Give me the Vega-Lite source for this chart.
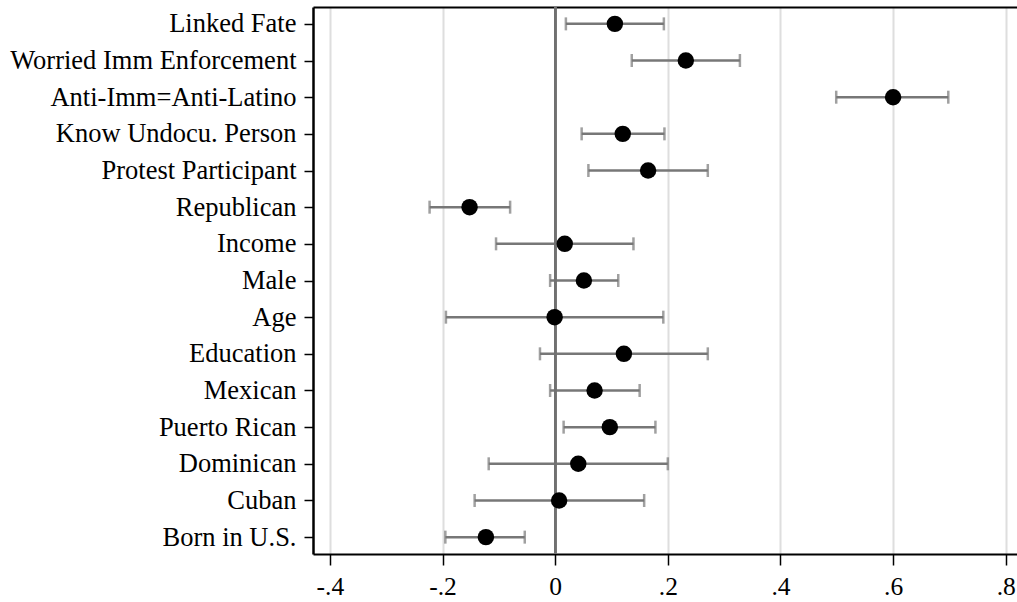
{
  "$schema": "https://vega.github.io/schema/vega-lite/v6.json",
  "autosize": {"type": "none"},
  "padding": {"left": 313, "top": 7, "right": 0, "bottom": 48},
  "width": 704,
  "height": 547,
  "background": "white",
  "config": {
    "view": {"stroke": null},
    "font": "Liberation Serif"
  },
  "data": {
    "values": [
      {"var": "Linked Fate", "est": 0.106, "lo": 0.019, "hi": 0.193},
      {"var": "Worried Imm Enforcement", "est": 0.232, "lo": 0.136, "hi": 0.328},
      {"var": "Anti-Imm=Anti-Latino", "est": 0.600, "lo": 0.499, "hi": 0.698},
      {"var": "Know Undocu. Person", "est": 0.120, "lo": 0.047, "hi": 0.194},
      {"var": "Protest Participant", "est": 0.165, "lo": 0.059, "hi": 0.271},
      {"var": "Republican", "est": -0.152, "lo": -0.223, "hi": -0.080},
      {"var": "Income", "est": 0.017, "lo": -0.105, "hi": 0.139},
      {"var": "Male", "est": 0.051, "lo": -0.009, "hi": 0.112},
      {"var": "Age", "est": -0.001, "lo": -0.194, "hi": 0.192},
      {"var": "Education", "est": 0.122, "lo": -0.027, "hi": 0.271},
      {"var": "Mexican", "est": 0.070, "lo": -0.009, "hi": 0.150},
      {"var": "Puerto Rican", "est": 0.097, "lo": 0.015, "hi": 0.178},
      {"var": "Dominican", "est": 0.041, "lo": -0.118, "hi": 0.200},
      {"var": "Cuban", "est": 0.007, "lo": -0.143, "hi": 0.158},
      {"var": "Born in U.S.", "est": -0.123, "lo": -0.195, "hi": -0.054}
    ]
  },
  "resolve": {"axis": {"x": "independent"}},
  "layer": [
    {
      "mark": {"type": "rule", "color": "#777777", "strokeWidth": 2.5},
      "encoding": {
        "y": {
          "field": "var", "type": "nominal", "sort": null,
          "scale": {"type": "point", "padding": 0.46},
          "axis": {
            "title": null, "domainColor": "black", "domainWidth": 2.5,
            "tickColor": "black", "tickSize": 9, "tickWidth": 1.5,
            "labelFont": "Liberation Serif", "labelFontSize": 26.5, "labelColor": "black",
            "labelPadding": 8, "labelLimit": 400, "grid": false
          }
        },
        "x": {
          "field": "lo", "type": "quantitative",
          "scale": {"domain": [-0.43, 0.82], "nice": false, "zero": false},
          "axis": {
            "orient": "bottom", "title": null,
            "values": [-0.4, -0.2, 0, 0.2, 0.4, 0.6, 0.8],
            "labelExpr": "datum.value == 0 ? '0' : (datum.value < 0 ? '-' : '') + replace(format(abs(datum.value), '.1f'), '0.', '.')",
            "domainColor": "black", "domainWidth": 2,
            "tickColor": "black", "tickSize": 11, "tickWidth": 1.5,
            "labelFont": "Liberation Serif", "labelFontSize": 25.5, "labelColor": "black",
            "labelPadding": 9, "labelFlush": false,
            "grid": true, "gridColor": "#dedede", "gridWidth": 2,
            "gridOpacity": {"condition": {"test": "datum.value == 0", "value": 0}, "value": 1}
          }
        },
        "x2": {"field": "hi"}
      }
    },
    {
      "mark": {"type": "tick", "color": "#777777", "thickness": 2.5, "size": 13},
      "encoding": {
        "y": {"field": "var", "type": "nominal", "sort": null},
        "x": {
          "field": "lo", "type": "quantitative",
          "axis": {
            "orient": "top", "title": null, "ticks": false, "labels": false, "grid": false,
            "domainColor": "black", "domainWidth": 2
          }
        }
      }
    },
    {
      "mark": {"type": "tick", "color": "#777777", "thickness": 2.5, "size": 13},
      "encoding": {
        "y": {"field": "var", "type": "nominal", "sort": null},
        "x": {"field": "hi", "type": "quantitative", "axis": null}
      }
    },
    {
      "mark": {"type": "rule", "color": "#707070", "strokeWidth": 2},
      "encoding": {
        "x": {"datum": 0, "type": "quantitative", "axis": null}
      }
    },
    {
      "mark": {"type": "point", "shape": "circle", "filled": true, "color": "black", "opacity": 1, "size": 270},
      "encoding": {
        "y": {"field": "var", "type": "nominal", "sort": null},
        "x": {"field": "est", "type": "quantitative", "axis": null}
      }
    }
  ]
}
